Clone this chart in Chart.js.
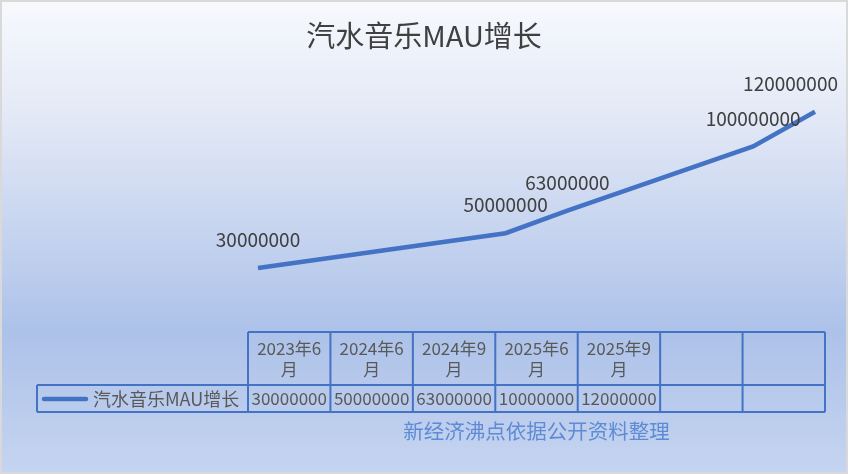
<!DOCTYPE html>
<html><head><meta charset="utf-8">
<script src="https://cdn.jsdelivr.net/npm/chart.js@4/dist/chart.umd.min.js"></script>
<style>html,body{margin:0;padding:0;background:#fff}canvas{display:block}</style>
</head><body>
<canvas id="c" width="848" height="474"></canvas>
<script>
const chartTitle = '汽水音乐MAU增长';
const seriesName = '汽水音乐MAU增长';
const categories = ['2023年6月', '2024年6月', '2024年9月', '2025年6月', '2025年9月', '', ''];
const mau = [30000000, 50000000, 63000000, 100000000, 120000000];
const sourceNote = '新经济沸点依据公开资料整理';

const FONT = "'Noto Sans CJK SC', 'Noto Sans', sans-serif";
const LINE_COLOR = '#4472c4';

// month offsets parsed from category labels (date axis)
const parsed = categories.filter(c => c).map(c => {
  const m = c.match(/(\d{4})年(\d+)月/);
  return (+m[1]) * 12 + (+m[2]);
});
const monthIdx = parsed.map(v => v - parsed[0]);
const points = mau.map((v, i) => ({ x: monthIdx[i], y: v }));

const bgPlugin = {
  id: 'bg',
  beforeDraw(chart) {
    const ctx = chart.ctx, W = chart.width, H = chart.height;
    ctx.save();
    ctx.fillStyle = '#d9d9d9';
    ctx.fillRect(0, 0, W, H);
    const g = ctx.createLinearGradient(0, 2, 0, H - 2);
    g.addColorStop(0, '#f7f9fd');
    g.addColorStop(0.25, '#e2e8f6');
    g.addColorStop(0.7, '#adc2e9');
    g.addColorStop(1, '#c5d4f0');
    ctx.fillStyle = g;
    ctx.fillRect(2, 2, W - 4, H - 4);
    ctx.restore();
  }
};

const decoPlugin = {
  id: 'deco',
  afterDatasetsDraw(chart) {
    const ctx = chart.ctx, W = chart.width;
    ctx.save();
    // title
    ctx.fillStyle = '#404040';
    ctx.font = '29px ' + FONT;
    ctx.textAlign = 'center';
    ctx.textBaseline = 'middle';
    ctx.fillText(chartTitle, W / 2, 36);

    // data labels
    const meta = chart.getDatasetMeta(0);
    ctx.font = '19px ' + FONT;
    ctx.fillStyle = '#404040';
    meta.data.forEach((pt, i) => {
      const txt = String(mau[i]);
      const w = ctx.measureText(txt).width;
      let cx = pt.x;
      if (cx + w / 2 > W - 10) cx = W - 10 - w / 2;
      ctx.fillText(txt, cx, pt.y - 28);
    });

    // data table
    const tLeft = 37, legRight = 248, tRight = 825;
    const top = 332, mid = 385, bottom = 412;
    const n = categories.length;
    const cw = (tRight - legRight) / n;
    ctx.strokeStyle = LINE_COLOR;
    ctx.lineWidth = 2;
    ctx.beginPath();
    ctx.moveTo(legRight, top); ctx.lineTo(tRight, top);
    ctx.moveTo(tLeft, mid); ctx.lineTo(tRight, mid);
    ctx.moveTo(tLeft, bottom); ctx.lineTo(tRight, bottom);
    ctx.moveTo(tLeft, mid); ctx.lineTo(tLeft, bottom);
    for (let i = 0; i <= n; i++) {
      const x = legRight + i * cw;
      ctx.moveTo(x, top); ctx.lineTo(x, bottom);
    }
    ctx.stroke();

    ctx.font = '17px ' + FONT;
    ctx.fillStyle = '#595959';
    for (let i = 0; i < n; i++) {
      const cx = legRight + (i + 0.5) * cw;
      // header wrap
      const label = categories[i];
      const lines = [];
      let cur = '';
      for (const ch of label) {
        if (ctx.measureText(cur + ch).width > cw - 6 && cur) { lines.push(cur); cur = ch; }
        else cur += ch;
      }
      if (cur) lines.push(cur);
      lines.forEach((ln, k) => ctx.fillText(ln, cx, 349 + k * 21));
      // value (truncated to cell width)
      if (i < mau.length) {
        let v = String(mau[i]);
        while (ctx.measureText(v).width > cw - 3 && v.length > 1) v = v.slice(0, -1);
        ctx.fillText(v, cx, (mid + bottom) / 2 + 0.5);
      }
    }
    // legend in table
    ctx.strokeStyle = LINE_COLOR;
    ctx.lineWidth = 4.5;
    ctx.lineCap = 'round';
    ctx.beginPath();
    ctx.moveTo(44, 399); ctx.lineTo(86, 399);
    ctx.stroke();
    ctx.textAlign = 'left';
    ctx.font = '18px ' + FONT;
    ctx.fillText(seriesName, 93, 399);

    // source note
    ctx.textAlign = 'center';
    ctx.font = '20.5px ' + FONT;
    ctx.fillStyle = '#5e8ad6';
    ctx.fillText(sourceNote, legRight + n * cw / 2, 431);
    ctx.restore();
  }
};

new Chart(document.getElementById('c'), {
  type: 'line',
  data: {
    datasets: [{
      label: seriesName,
      data: points,
      borderColor: LINE_COLOR,
      borderWidth: 4.5,
      pointRadius: 0,
      tension: 0,
      fill: false,
      clip: false
    }]
  },
  options: {
    responsive: false,
    devicePixelRatio: 1,
    animation: false,
    layout: { padding: { left: 258, right: 33, top: 77, bottom: 154 } },
    scales: {
      x: { type: 'linear', display: false, min: Math.min(...monthIdx), max: Math.max(...monthIdx) },
      y: { display: false, min: 0, max: 140000000 }
    },
    plugins: { legend: { display: false }, title: { display: false }, tooltip: { enabled: false } }
  },
  plugins: [bgPlugin, decoPlugin]
});
</script>
</body></html>
